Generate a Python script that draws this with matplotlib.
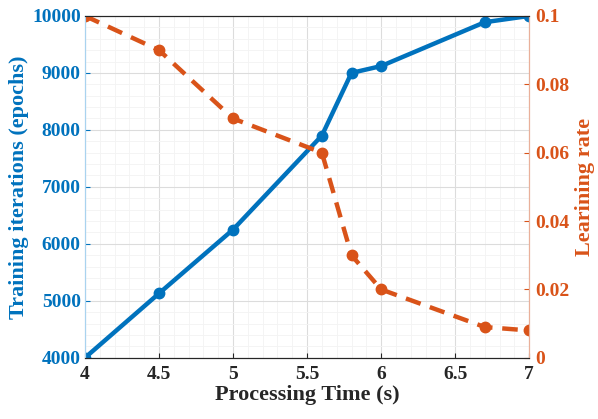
import matplotlib
matplotlib.use("Agg")
import matplotlib.pyplot as plt
from matplotlib.ticker import AutoMinorLocator

# data
time_s = [4, 4.5, 5, 5.6, 5.8, 6, 6.7, 7]
iterations = [4000, 5130, 6250, 7900, 9000, 9120, 9890, 10000]
learning_rate = [0.1, 0.09, 0.07, 0.06, 0.03, 0.02, 0.009, 0.008]

x_ticks = [4, 4.5, 5, 5.5, 6, 6.5, 7]
x_labels = ["4", "4.5", "5", "5.5", "6", "6.5", "7"]
left_ticks = [4000, 5000, 6000, 7000, 8000, 9000, 10000]
right_ticks = [0, 0.02, 0.04, 0.06, 0.08, 0.1]
right_labels = ["0", "0.02", "0.04", "0.06", "0.08", "0.1"]

blue = "#0072BD"
orange = "#D95319"

plt.rcParams["font.family"] = ["Liberation Serif", "DejaVu Serif"]
plt.rcParams["font.weight"] = "bold"

fig = plt.figure(figsize=(5.98, 4.19), dpi=100)
ax = fig.add_axes([0.142, 0.146, 0.743, 0.816])
ax2 = ax.twinx()

ax.plot(time_s, iterations, color=blue, lw=3.2, marker="o", ms=7.5)
ax2.plot(time_s, learning_rate, color=orange, lw=3.2, ls=(0, (3.5, 2.2)), marker="o", ms=7.5)

ax.set_xlim(4, 7)
ax.set_ylim(4000, 10000)
ax2.set_ylim(0, 0.1)

ax.set_xticks(x_ticks)
ax.set_xticklabels(x_labels)
ax.set_yticks(left_ticks)
ax.set_yticklabels([str(v) for v in left_ticks])
ax2.set_yticks(right_ticks)
ax2.set_yticklabels(right_labels)

ax.xaxis.set_minor_locator(AutoMinorLocator(5))
ax.yaxis.set_minor_locator(AutoMinorLocator(5))
ax.grid(True, which="major", color="#dcdcdc", lw=0.8)
ax.grid(True, which="minor", color="#f3f3f3", lw=0.6)
ax.set_axisbelow(True)

ax.tick_params(axis="x", direction="in", labelsize=14, colors="#262626", pad=6)
ax.tick_params(axis="x", which="minor", length=0)
ax.tick_params(axis="y", direction="in", labelsize=14, colors=blue, pad=3)
ax.tick_params(axis="y", which="minor", length=0)
ax2.tick_params(axis="y", direction="in", labelsize=14, colors=orange, pad=4)
for lab in ax.get_xticklabels() + ax.get_yticklabels() + ax2.get_yticklabels():
    lab.set_fontweight("bold")

for a in (ax, ax2):
    a.spines["top"].set_color("#262626")
    a.spines["bottom"].set_color("#262626")
    a.spines["left"].set_color("#a9d3ef")
    a.spines["right"].set_color("#e9b09a")
    for s in a.spines.values():
        s.set_linewidth(0.8)

ax.set_xlabel("Processing Time (s)", fontsize=16, fontweight="bold", color="#262626", labelpad=1)
ax.set_ylabel("Training iterations (epochs)", fontsize=16, fontweight="bold", color=blue, labelpad=2)
ax2.set_ylabel("Learining rate", fontsize=16, fontweight="bold", color=orange, labelpad=4)

fig.savefig("out.png", dpi=100)
